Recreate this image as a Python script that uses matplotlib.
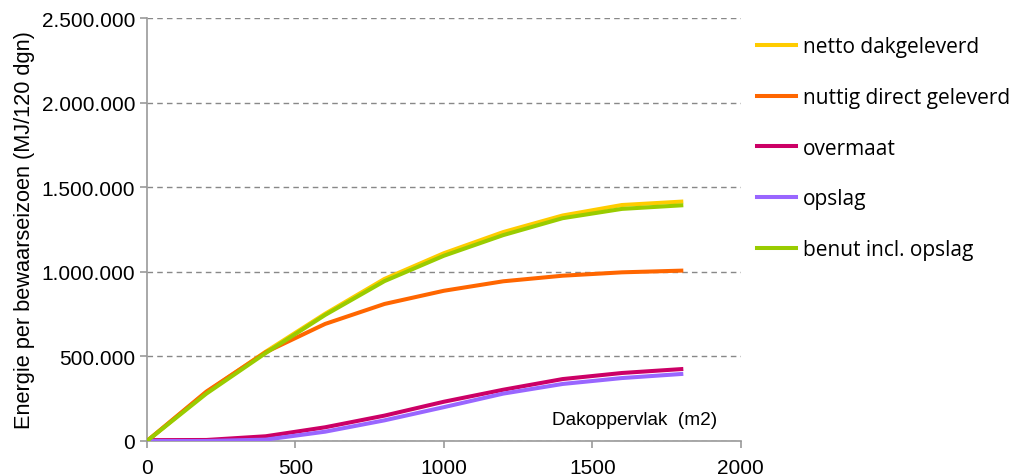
import numpy as np
import matplotlib
matplotlib.use("Agg")
import matplotlib.pyplot as plt
from matplotlib.ticker import FuncFormatter

# dakoppervlak (m2)
area = [0, 200, 400, 600, 800, 1000, 1200, 1400, 1600, 1800]

# energie per bewaarseizoen (MJ/120 dgn)
netto = [0, 288000, 528000, 752000, 958000, 1110000, 1235000, 1333000, 1395000, 1415000]
nuttig = [0, 292000, 525000, 692000, 810000, 888000, 944000, 977000, 997000, 1007000]
overmaat = [5000, 6000, 28000, 81000, 150000, 232000, 303000, 366000, 402000, 425000]
opslag = [0, 0, 8000, 55000, 122000, 200000, 280000, 337000, 372000, 396000]
benut = [0, 280000, 520000, 745000, 945000, 1095000, 1217000, 1317000, 1372000, 1393000]

labels = ['netto dakgeleverd', 'nuttig direct geleverd', 'overmaat', 'opslag', 'benut incl. opslag']
colors = ['#FFCC00', '#FF6600', '#CC0066', '#9966FF', '#99CC00']

plt.rcParams['font.family'] = ['Liberation Sans', 'DejaVu Sans']

fig = plt.figure(figsize=(10.16, 4.77), dpi=100)
ax = fig.add_axes([0.1447, 0.0734, 0.5843, 0.8866])

series = [netto, nuttig, overmaat, opslag, benut]
lines = []
for i in range(len(series)):
    ln, = ax.plot(area, series[i], color=colors[i], lw=2.9, label=labels[i],
                  solid_joinstyle='round', zorder=3)
    lines.append(ln)

ax.set_xlim(0, 2000)
ax.set_ylim(0, 2500000)
ax.set_xticks([0, 500, 1000, 1500, 2000])
ax.set_yticks(np.arange(0, 2500001, 500000))
ax.yaxis.set_major_formatter(FuncFormatter(lambda v, p: f'{int(v):,}'.replace(',', '.')))

ax.grid(axis='y', color='#888888', linestyle=(0, (4, 3)), linewidth=1.0, zorder=1)
for s in ['top', 'right']:
    ax.spines[s].set_visible(False)
for s in ['left', 'bottom']:
    ax.spines[s].set_color('#999999')
    ax.spines[s].set_linewidth(1.2)
ax.tick_params(axis='both', colors='#999999', labelcolor='black', labelsize=15,
               length=5, width=1.2)
ax.tick_params(axis='x', pad=7)

ax.set_ylabel('Energie per bewaarseizoen (MJ/120 dgn)', fontsize=15.7, labelpad=5)
ax.text(1920, 128000, 'Dakoppervlak  (m2)', fontsize=13.7, ha='right', va='center')

fig.legend(handles=lines, labels=labels, loc='upper left',
           bbox_to_anchor=(0.727, 0.9615), frameon=False,
           prop={'family': ['Open Sans', 'DejaVu Sans'], 'size': 15},
           handlelength=1.85, handletextpad=0.33, labelspacing=1.43)

fig.savefig('out.png', dpi=100)
